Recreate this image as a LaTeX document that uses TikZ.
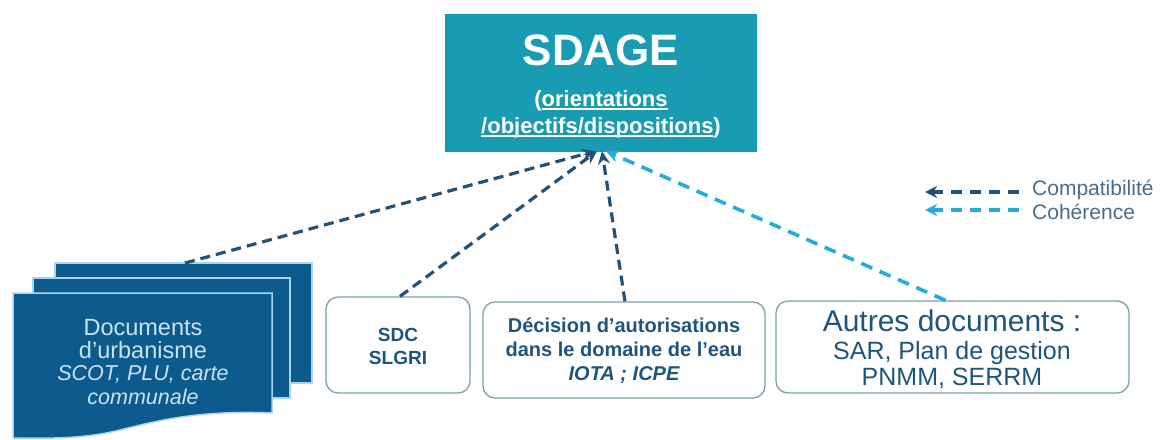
\documentclass[tikz,border=0pt]{standalone}
\usepackage{fontspec}
\setmainfont{Liberation Sans}
\usetikzlibrary{arrows.meta}
\definecolor{teal1}{RGB}{25,155,178}
\definecolor{docblue}{RGB}{13,90,140}
\definecolor{docedge}{RGB}{170,212,235}
\definecolor{doctext}{RGB}{200,228,242}
\definecolor{darkarrow}{RGB}{35,82,118}
\definecolor{lightarrow}{RGB}{40,170,220}
\definecolor{boxedge}{RGB}{125,160,172}
\definecolor{boxtext}{RGB}{30,85,125}
\definecolor{legtext}{RGB}{70,110,140}
\newcommand\myul[1]{\setbox0\hbox{#1}\rlap{\rule[-3.5pt]{\wd0}{1.3pt}}\box0}
\tikzset{
  page/.style={fill=docblue,draw=docedge,line width=1.5pt},
  rbox/.style={draw=boxedge,line width=1.3pt,rounded corners=12pt,fill=white,inner sep=0pt},
  compat/.style={draw=darkarrow,line width=3.2pt,dash pattern=on 10pt off 6pt,-{Stealth[length=13pt,width=12pt]}},
  coher/.style={draw=lightarrow,line width=3.6pt,dash pattern=on 12pt off 8pt,-{Stealth[length=13pt,width=12pt]}},
  legarrow/.style={line width=3.6pt,dash pattern=on 11pt off 8pt,-{Stealth[length=12pt,width=12pt]}},
}
\begin{document}
\begin{tikzpicture}[x=1pt,y=-1pt]
\useasboundingbox (0,0) rectangle (1161,439);
% SDAGE box
\node[fill=teal1,minimum width=312pt,minimum height=138pt,inner sep=0pt] (sdage) at (601,83) {};
\node[text=white,font=\fontsize{44}{44}\selectfont\bfseries] (sdagetitle) at (601,50) {SDAGE};
\node[text=white,font=\fontsize{22}{27}\selectfont\bfseries,align=center] (sdagesub) at (601,114)
  {(\myul{orientations}\\\myul{/objectifs/dispositions})};
% documents stack
\path[page] (55,263) rectangle (312,383);
\path[page] (33,278) rectangle (290,398);
\path[page] (13,293) -- (272,293) -- (272,413) .. controls (200,410) and (160,420) .. (120,430) .. controls (80,440) and (40,438) .. (13,438) -- cycle;
\coordinate (docstop) at (185,263);
\node[text=doctext,align=center,font=\fontsize{23.5}{23}\selectfont] (docs) at (143,339)
  {Documents\\d'urbanisme};
\node[text=doctext,align=center,font=\fontsize{21.5}{24}\selectfont\itshape] (docsit) at (143,385)
  {SCOT, PLU, carte\\communale};
% boxes
\node[rbox,minimum width=144pt,minimum height=96pt] (sdc) at (398,345) {};
\node[text=boxtext,align=center,font=\fontsize{19}{23}\selectfont\bfseries] (sdctext) at (398,346) {SDC\\SLGRI};
\node[rbox,minimum width=282pt,minimum height=96pt] (dec) at (624,350) {};
\node[text=boxtext,align=center,font=\fontsize{20}{24}\selectfont\bfseries] (dectext) at (624,351)
  {Décision d'autorisations\\dans le domaine de l'eau\\\itshape IOTA ; ICPE};
\node[rbox,minimum width=353pt,minimum height=92pt] (autres) at (952.5,347) {};
\node[text=boxtext,font=\fontsize{30}{30}\selectfont] (autrestitle) at (952,321) {Autres documents :};
\node[text=boxtext,align=center,font=\fontsize{25}{26}\selectfont] (autrestext) at (952,365)
  {SAR, Plan de gestion\\PNMM, SERRM};
% connectors
\draw[compat] (docstop) -- ([xshift=-6pt,yshift=1pt]sdage.south);
\draw[compat] ([xshift=2pt]sdc.north) -- ([xshift=-4pt,yshift=1pt]sdage.south);
\draw[compat] ([xshift=1pt]dec.north) -- ([xshift=1pt,yshift=1pt]sdage.south);
\draw[coher] ([xshift=-7pt]autres.north) -- ([xshift=5pt,yshift=1pt]sdage.south);
% legend
\coordinate (l1a) at (1019,192);
\coordinate (l1b) at (925,192);
\coordinate (l2a) at (1019,210);
\coordinate (l2b) at (925,210);
\draw[legarrow,draw=darkarrow] (l1a) -- (l1b);
\draw[legarrow,draw=lightarrow] (l2a) -- (l2b);
\node[anchor=west,text=legtext,font=\fontsize{21}{21}\selectfont,inner sep=0pt] (leg1) at (1032,190) {Compatibilité};
\node[anchor=west,text=legtext,font=\fontsize{21}{21}\selectfont,inner sep=0pt] (leg2) at (1032,212) {Cohérence};
\end{tikzpicture}
\end{document}
